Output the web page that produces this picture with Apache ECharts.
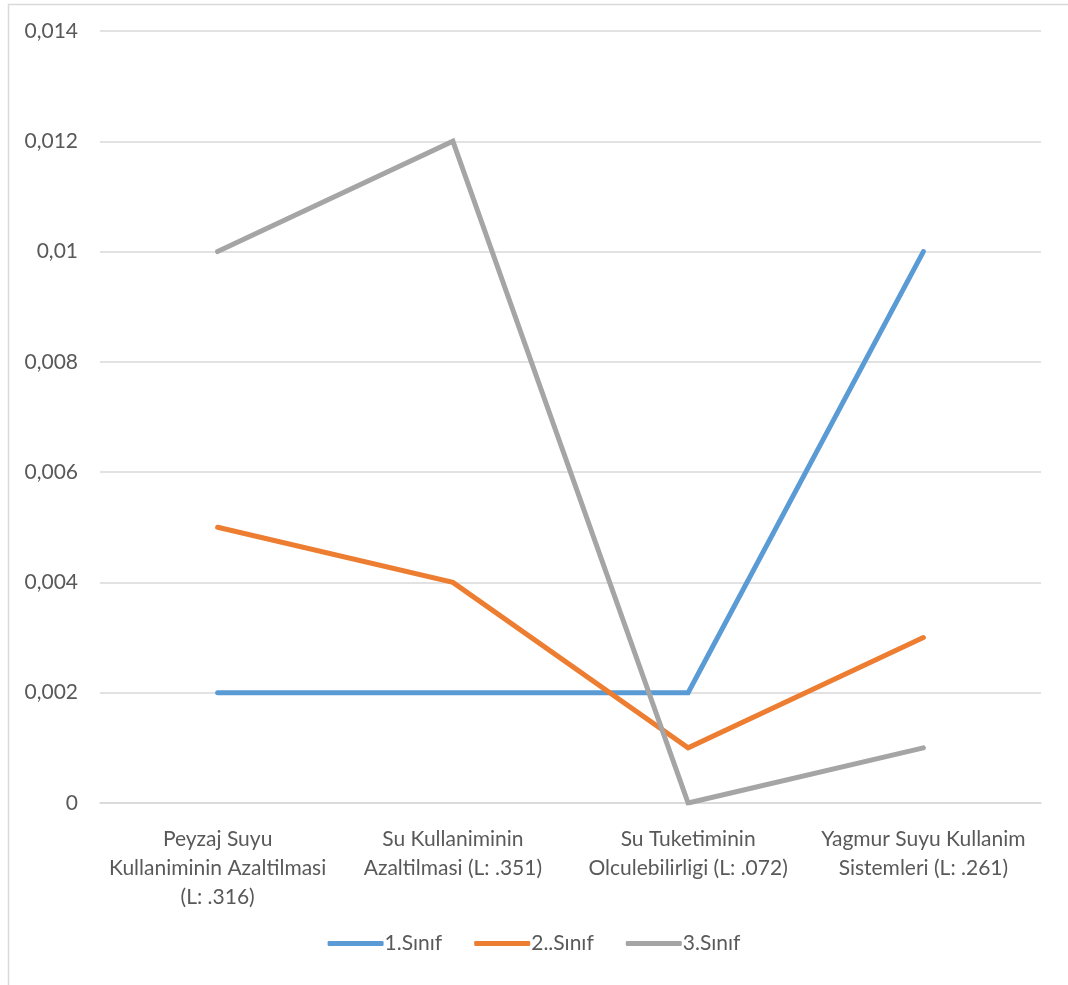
<!DOCTYPE html>
<html>
<head>
<meta charset="utf-8">
<script src="https://cdn.jsdelivr.net/npm/echarts@6/dist/echarts.min.js"></script>
<style>
  html, body { margin: 0; padding: 0; background: #fff; }
  #chart { width: 1068px; height: 985px; }
</style>
</head>
<body>
<div id="chart"></div>
<script>
// Water-use items (with loadings) and mean values per class year
const categories = [
  'Peyzaj Suyu\nKullaniminin Azaltilmasi\n(L: .316)',
  'Su Kullaniminin\nAzaltilmasi (L: .351)',
  'Su Tuketiminin\nOlculebilirligi (L: .072)',
  'Yagmur Suyu Kullanim\nSistemleri (L: .261)'
];
const seriesNames = ['1.Sınıf', '2..Sınıf', '3.Sınıf'];
const sinif1 = [0.002, 0.002, 0.002, 0.010];
const sinif2 = [0.005, 0.004, 0.001, 0.003];
const sinif3 = [0.010, 0.012, 0.000, 0.001];
const yTicks = { min: 0, max: 0.014, interval: 0.002 };

const colors = ['#5B9BD5', '#ED7D31', '#A5A5A5'];
const FONT = 'Lato, "Open Sans", "Noto Sans", sans-serif';

// general number format: no trailing zeros, comma decimal separator
const fmt = v => String(parseFloat(v.toFixed(3))).replace('.', ',');

const chart = echarts.init(document.getElementById('chart'));
const mk = (name, data, color) => ({
  name, type: 'line', data,
  symbol: 'none',
  lineStyle: { width: 5, color, cap: 'round', join: 'miter' },
  itemStyle: { color },
  animation: false
});

chart.setOption({
  backgroundColor: '#fff',
  textStyle: { fontFamily: FONT },
  graphic: [{
    type: 'rect', left: 6, top: 2, silent: true,
    shape: { width: 1100, height: 982 },
    style: { fill: 'none', stroke: '#d9d9d9', lineWidth: 1.5 }
  }],
  grid: { left: 100, right: 27, top: 31, bottom: 182 },
  legend: {
    bottom: 26, left: 'center',
    itemWidth: 56, itemHeight: 5, itemGap: 32,
    icon: 'roundRect',
    textStyle: { fontFamily: FONT, fontSize: 21, color: '#595959', padding: [0, 0, 0, -4] },
    data: seriesNames
  },
  xAxis: {
    type: 'category', data: categories, boundaryGap: true,
    axisLine: { show: true, lineStyle: { color: '#d9d9d9', width: 1.5 } },
    axisTick: { show: false },
    axisLabel: {
      interval: 0, margin: 22, lineHeight: 29,
      fontFamily: FONT, fontSize: 21, color: '#595959'
    }
  },
  yAxis: {
    type: 'value', min: yTicks.min, max: yTicks.max, interval: yTicks.interval,
    axisLine: { show: false }, axisTick: { show: false },
    splitLine: { lineStyle: { color: '#d9d9d9', width: 1.5 } },
    axisLabel: {
      margin: 22, fontFamily: FONT, fontSize: 21, color: '#595959',
      formatter: fmt
    }
  },
  series: [
    mk(seriesNames[0], sinif1, colors[0]),
    mk(seriesNames[1], sinif2, colors[1]),
    mk(seriesNames[2], sinif3, colors[2])
  ]
});
</script>
</body>
</html>
